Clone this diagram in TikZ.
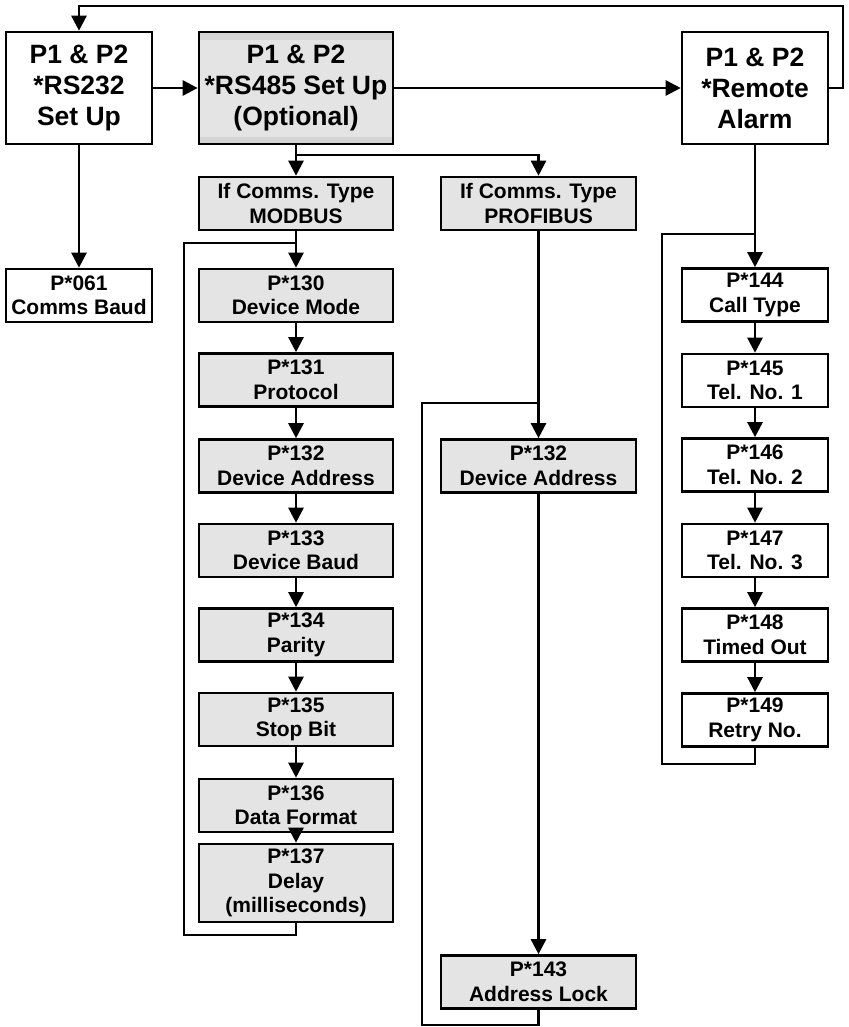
\documentclass[tikz,border=0pt]{standalone}
\usepackage{fontspec}
\setmainfont{Liberation Sans}
\usetikzlibrary{arrows.meta}
\definecolor{boxgray}{RGB}{228,228,228}
\definecolor{bandgray}{RGB}{212,212,212}
\tikzset{
  base/.style={draw, line width=2.6pt, align=center, inner sep=0pt, font=\bfseries\fontsize{21}{24.5}\selectfont},
  big/.style={base, minimum height=112pt, font=\bfseries\fontsize{26.5}{31}\selectfont},
  small/.style={base, minimum height=53pt},
  wbox/.style={minimum width=146pt},
  gbox/.style={fill=boxgray, minimum width=194pt},
  conn/.style={line width=2.5pt, -{Triangle[width=15pt,length=15pt]}},
  line/.style={line width=2.5pt}
}
\begin{document}
\begin{tikzpicture}[x=1pt,y=-1pt]
\useasboundingbox (0,0) rectangle (848,1027);
% top row
\node[big,wbox] (rs232) at (79,88) {P1 \& P2\\*RS232\\Set Up};
\node[big,gbox,path picture={
  \fill[bandgray] (path picture bounding box.north west) rectangle ([yshift=-8pt]path picture bounding box.north east);
  \fill[bandgray] (path picture bounding box.south west) rectangle ([yshift=7pt]path picture bounding box.south east);}] (rs485) at (296,88) {P1 \& P2\\*RS485 Set Up\\(Optional)};
\node[big,wbox] (remote) at (755,88) {P1 \& P2\\*Remote\\Alarm};
% RS232 column
\node[small,wbox] (p061) at (79,295.5) {P*061\\Comms Baud};
% MODBUS column
\node[small,gbox] (modbus) at (296,203.5) {If Comms. Type\\MODBUS};
\node[small,gbox] (p130) at (296,295.5) {P*130\\Device Mode};
\node[small,gbox] (p131) at (296,380) {P*131\\Protocol};
\node[small,gbox] (p132) at (296,466) {P*132\\Device Address};
\node[small,gbox] (p133) at (296,550.5) {P*133\\Device Baud};
\node[small,gbox] (p134) at (296,635) {P*134\\Parity};
\node[small,gbox] (p135) at (296,719.5) {P*135\\Stop Bit};
\node[small,gbox] (p136) at (296,805.5) {P*136\\Data Format};
\node[small,gbox,minimum height=78pt] (p137) at (296,883) {P*137\\Delay\\(milliseconds)};
% PROFIBUS column
\node[small,gbox,minimum width=195pt] (profibus) at (538.5,203.5) {If Comms. Type\\PROFIBUS};
\node[small,gbox,minimum width=195pt] (p132b) at (538.5,466) {P*132\\Device Address};
\node[small,gbox,minimum width=195pt] (p143) at (538.5,982) {P*143\\Address Lock};
% Remote column
\node[small,wbox] (p144) at (755,295) {P*144\\Call Type};
\node[small,wbox] (p145) at (755,380.5) {P*145\\Tel. No. 1};
\node[small,wbox] (p146) at (755,465) {P*146\\Tel. No. 2};
\node[small,wbox] (p147) at (755,550.5) {P*147\\Tel. No. 3};
\node[small,wbox] (p148) at (755,635) {P*148\\Timed Out};
\node[small,wbox] (p149) at (755,720) {P*149\\Retry No.};
% coordinates
\coordinate (split) at (296,155);
\coordinate (mloop) at (296,243);
\coordinate (ploop) at (538.5,403);
\coordinate (rloop) at (755,234);
% top connectors
\draw[conn] (remote.east) -- (843,88) -- (843,6) -| (rs232.north);
\draw[conn] (rs232.east) -- (rs485.west);
\draw[conn] (rs485.east) -- (remote.west);
\draw[conn] (rs232.south) -- (p061.north);
\draw[conn] (rs485.south) -- (modbus.north);
\draw[conn] (split) -| (profibus.north);
% modbus chain
\draw[conn] (modbus.south) -- (p130.north);
\draw[conn] (p130.south) -- (p131.north);
\draw[conn] (p131.south) -- (p132.north);
\draw[conn] (p132.south) -- (p133.north);
\draw[conn] (p133.south) -- (p134.north);
\draw[conn] (p134.south) -- (p135.north);
\draw[conn] (p135.south) -- (p136.north);
\draw[conn] (p136.south) -- (p137.north);
\draw[line] (p137.south) -- (296,935) -- (184,935) -- (184,243) -- (mloop);
% profibus chain
\draw[conn] (profibus.south) -- (p132b.north);
\draw[conn] (p132b.south) -- (p143.north);
\draw[line] (p143.south) -- (538.5,1025) -- (422,1025) -- (422,403) -- (ploop);
% remote chain
\draw[conn] (remote.south) -- (p144.north);
\draw[conn] (p144.south) -- (p145.north);
\draw[conn] (p145.south) -- (p146.north);
\draw[conn] (p146.south) -- (p147.north);
\draw[conn] (p147.south) -- (p148.north);
\draw[conn] (p148.south) -- (p149.north);
\draw[line] (p149.south) -- (755,764) -- (662,764) -- (662,234) -- (rloop);
\end{tikzpicture}
\end{document}
